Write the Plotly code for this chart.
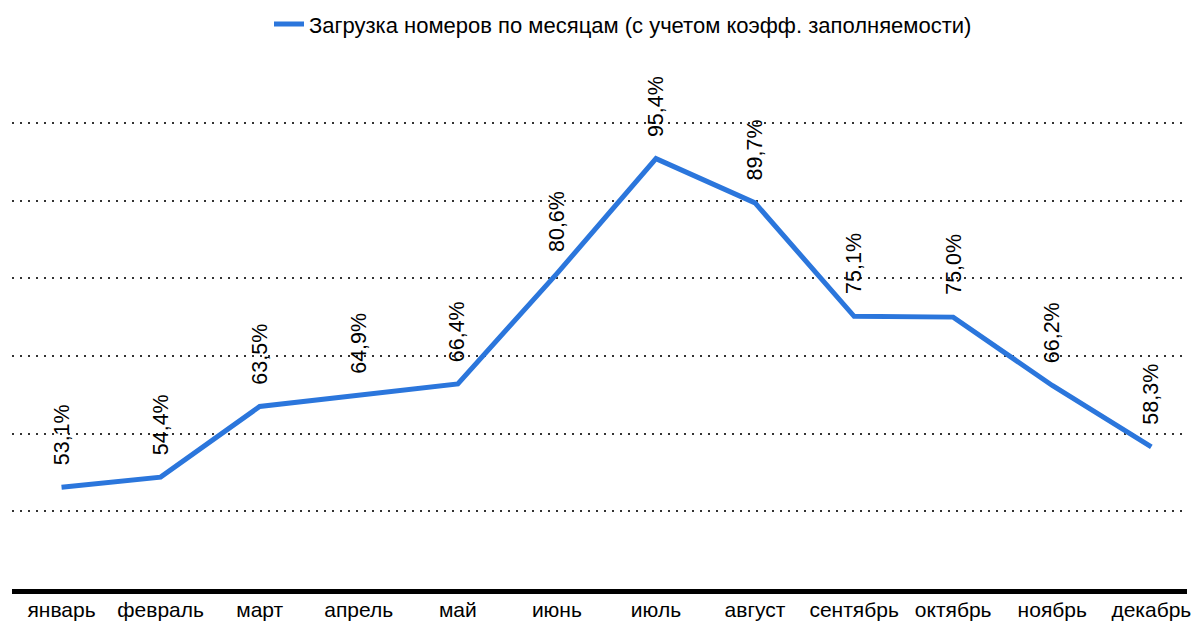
import plotly.graph_objects as go

months = ["январь", "февраль", "март", "апрель", "май", "июнь",
          "июль", "август", "сентябрь", "октябрь", "ноябрь", "декабрь"]
occupancy = [53.1, 54.4, 63.5, 64.9, 66.4, 80.6, 95.4, 89.7, 75.1, 75.0, 66.2, 58.3]
series_name = "Загрузка номеров по месяцам (с учетом коэфф. заполняемости)"

FONT = "Liberation Sans, Arial, sans-serif"
BLUE = "#2B76DC"

fig = go.Figure()
fig.add_trace(go.Scatter(
    x=months, y=occupancy, mode="lines", name=series_name,
    line=dict(color=BLUE, width=5),
))

for m, v in zip(months, occupancy):
    fig.add_annotation(
        x=m, y=v, text=f"{v:.1f}%".replace(".", ","), textangle=-90,
        showarrow=False, yanchor="bottom", xanchor="center", yshift=20,
        font=dict(family=FONT, size=21.5, color="#000000"),
    )

fig.update_layout(
    width=1191, height=635,
    margin=dict(l=12, r=0, t=60, b=46),
    paper_bgcolor="white", plot_bgcolor="white",
    font=dict(family=FONT, size=22, color="#000000"),
    showlegend=True,
    legend=dict(orientation="h", x=0.52, xanchor="center", y=0.995, yanchor="top",
                yref="container", font=dict(family=FONT, size=22, color="#000000")),
    xaxis=dict(range=[-0.5, 11.36], showgrid=False, showline=True, linewidth=5,
               linecolor="#000000", ticks="", tickfont=dict(family=FONT, size=21),
               ticklabelstandoff=-2, fixedrange=True),
    yaxis=dict(range=[40, 108.1], tickvals=[50, 60, 70, 80, 90, 100], showticklabels=False,
               showgrid=True, gridcolor="#333333", gridwidth=2, griddash="2px,6px",
               zeroline=False, showline=False, fixedrange=True),
)

fig.write_html("out.html", config={"displayModeBar": False},
               post_script="document.body.style.margin='0';document.body.style.overflow='hidden';")
